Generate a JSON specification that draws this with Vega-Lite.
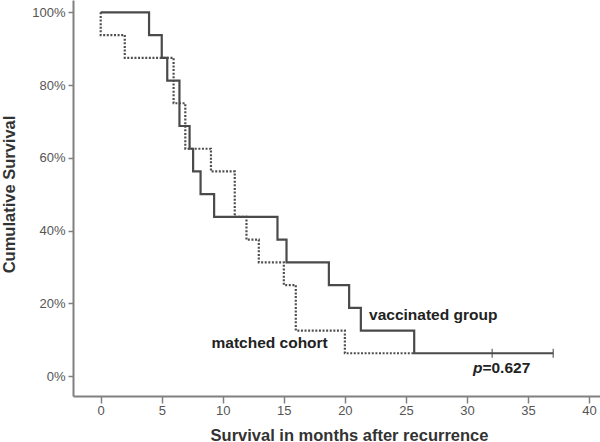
{
  "$schema": "https://vega.github.io/schema/vega-lite/v6.json",
  "autosize": "none",
  "width": 527,
  "height": 396,
  "padding": {"left": 73, "top": 0, "right": 0, "bottom": 46},
  "background": "white",
  "config": {
    "view": {"stroke": null},
    "font": "Liberation Sans",
    "axis": {"grid": false, "domainColor": "#808080", "domainWidth": 2, "tickColor": "#808080", "tickWidth": 1.5, "labelColor": "#555555", "labelFont": "Liberation Sans", "labelFontSize": 13, "titleFont": "Liberation Sans", "titleFontSize": 16.5, "titleFontWeight": "bold", "titleColor": "#333333"}
  },
  "datasets": {
    "curves": [
      {"group": "vaccinated group", "i": 0, "t": 0, "s": 100},
      {"group": "vaccinated group", "i": 1, "t": 3.96, "s": 93.75},
      {"group": "vaccinated group", "i": 2, "t": 5.0, "s": 87.5},
      {"group": "vaccinated group", "i": 3, "t": 5.45, "s": 81.25},
      {"group": "vaccinated group", "i": 4, "t": 6.45, "s": 68.75},
      {"group": "vaccinated group", "i": 5, "t": 7.28, "s": 62.5},
      {"group": "vaccinated group", "i": 6, "t": 7.57, "s": 56.25},
      {"group": "vaccinated group", "i": 7, "t": 8.18, "s": 50},
      {"group": "vaccinated group", "i": 8, "t": 9.29, "s": 43.75},
      {"group": "vaccinated group", "i": 9, "t": 14.48, "s": 37.5},
      {"group": "vaccinated group", "i": 10, "t": 15.22, "s": 31.25},
      {"group": "vaccinated group", "i": 11, "t": 18.69, "s": 25},
      {"group": "vaccinated group", "i": 12, "t": 20.35, "s": 18.75},
      {"group": "vaccinated group", "i": 13, "t": 21.31, "s": 12.5},
      {"group": "vaccinated group", "i": 14, "t": 25.68, "s": 6.25},
      {"group": "vaccinated group", "i": 15, "t": 37.07, "s": 6.25},
      {"group": "matched cohort", "i": 0, "t": 0, "s": 100},
      {"group": "matched cohort", "i": 1, "t": 0, "s": 93.75},
      {"group": "matched cohort", "i": 2, "t": 1.97, "s": 87.5},
      {"group": "matched cohort", "i": 3, "t": 5.97, "s": 75},
      {"group": "matched cohort", "i": 4, "t": 6.93, "s": 62.5},
      {"group": "matched cohort", "i": 5, "t": 9.03, "s": 56.25},
      {"group": "matched cohort", "i": 6, "t": 10.98, "s": 43.75},
      {"group": "matched cohort", "i": 7, "t": 11.94, "s": 37.5},
      {"group": "matched cohort", "i": 8, "t": 12.95, "s": 31.25},
      {"group": "matched cohort", "i": 9, "t": 15.0, "s": 25},
      {"group": "matched cohort", "i": 10, "t": 15.98, "s": 12.5},
      {"group": "matched cohort", "i": 11, "t": 20.0, "s": 6.25},
      {"group": "matched cohort", "i": 12, "t": 25.68, "s": 6.25}
    ],
    "censored": [
      {"group": "vaccinated group", "t": 32.07, "s": 6.25},
      {"group": "vaccinated group", "t": 37.07, "s": 6.25}
    ],
    "labels": [
      {"key": "vacc", "text": "vaccinated group", "t": 27.24, "s": 15.3},
      {"key": "match", "text": "matched cohort", "t": 18.6, "s": 7.7},
      {"key": "p", "text": "p", "t": 30.49, "s": 0.8},
      {"key": "pval", "text": "=0.627", "t": 31.27, "s": 0.8}
    ]
  },
  "encoding": {
    "x": {"field": "t", "type": "quantitative", "scale": {"domain": [-2.27, 40.9], "nice": false, "zero": false},
      "axis": {"values": [0, 5, 10, 15, 20, 25, 30, 35, 40], "tickSize": 7, "labelPadding": 1, "title": "Survival in months after recurrence", "titleX": 276, "titleY": 44, "titleBaseline": "alphabetic", "titleAlign": "center"}},
    "y": {"field": "s", "type": "quantitative", "scale": {"domain": [-5.5, 103.4], "nice": false, "zero": false},
      "axis": {"values": [0, 20, 40, 60, 80, 100], "labelExpr": "datum.value + '%'", "tickSize": 5, "labelPadding": 3, "title": "Cumulative Survival", "titleAngle": 270, "titleX": -64, "titleY": 194, "titleAlign": "center", "titleBaseline": "middle"}}
  },
  "layer": [
    {
      "data": {"name": "curves"},
      "transform": [{"filter": "datum.group === 'matched cohort'"}],
      "mark": {"type": "line", "interpolate": "step-after", "color": "#4f4f4f", "strokeWidth": 2.2, "strokeDash": [2, 1.6]},
      "encoding": {"order": {"field": "i", "type": "quantitative"}}
    },
    {
      "data": {"name": "curves"},
      "transform": [{"filter": "datum.group === 'vaccinated group'"}],
      "mark": {"type": "line", "interpolate": "step-after", "color": "#4a4a4a", "strokeWidth": 2.2},
      "encoding": {"order": {"field": "i", "type": "quantitative"}}
    },
    {
      "data": {"name": "censored"},
      "mark": {"type": "tick", "orient": "vertical", "size": 9, "thickness": 1.5, "color": "#4a4a4a"}
    },
    {
      "data": {"name": "labels"},
      "transform": [{"filter": "datum.key === 'vacc'"}],
      "mark": {"type": "text", "align": "center", "baseline": "alphabetic", "fontSize": 15.5, "fontWeight": "bold", "color": "#222222"},
      "encoding": {"text": {"field": "text"}}
    },
    {
      "data": {"name": "labels"},
      "transform": [{"filter": "datum.key === 'match'"}],
      "mark": {"type": "text", "align": "right", "baseline": "alphabetic", "fontSize": 15.5, "fontWeight": "bold", "color": "#222222"},
      "encoding": {"text": {"field": "text"}}
    },
    {
      "data": {"name": "labels"},
      "transform": [{"filter": "datum.key === 'p'"}],
      "mark": {"type": "text", "align": "left", "baseline": "alphabetic", "fontSize": 15.5, "fontWeight": "bold", "fontStyle": "italic", "color": "#222222"},
      "encoding": {"text": {"field": "text"}}
    },
    {
      "data": {"name": "labels"},
      "transform": [{"filter": "datum.key === 'pval'"}],
      "mark": {"type": "text", "align": "left", "baseline": "alphabetic", "fontSize": 15.5, "fontWeight": "bold", "color": "#222222"},
      "encoding": {"text": {"field": "text"}}
    }
  ]
}
